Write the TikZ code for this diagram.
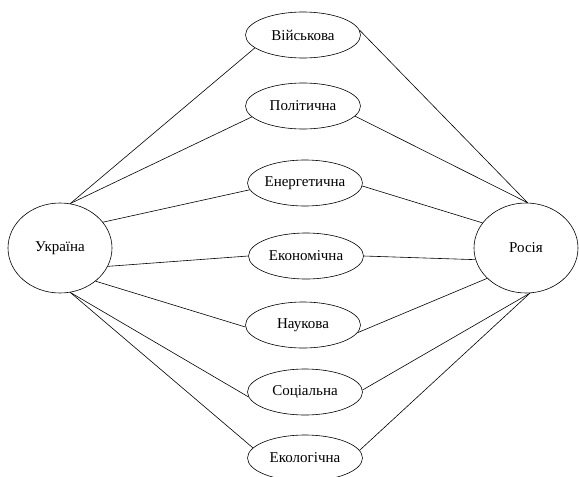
\documentclass[tikz,border=0pt]{standalone}
\usepackage{fontspec}
\setmainfont{Liberation Serif}
\usetikzlibrary{shapes.geometric}

\begin{document}
\begin{tikzpicture}[x=1pt,y=-1pt,line width=0.6pt,
  font=\fontsize{15}{17}\selectfont,
  krajina/.style={draw,ellipse,minimum width=104pt,minimum height=90pt,inner sep=0pt},
  sfera/.style={draw,ellipse,minimum width=115pt,minimum height=46pt,inner sep=0pt}]
\useasboundingbox (0,0) rectangle (579,477);
\node[krajina] (U) at (60,248) {Україна};
\node[krajina] (R) at (526,248) {Росія};
\node[sfera] (S1) at (303,35) {Військова};
\node[sfera] (S2) at (303,106) {Політична};
\node[sfera] (S3) at (305,183) {Енергетична};
\node[sfera] (S4) at (306,256) {Економічна};
\node[sfera] (S5) at (303,325) {Наукова};
\node[sfera] (S6) at (305,392) {Соціальна};
\node[sfera] (S7) at (305,458) {Екологічна};
\path (U.77) edge (S1.195) (U.77) edge (S2.192) (U.31) edge (S3.187)
      (U.-21) edge (S4.180) (U.-43) edge (S5.182)
      (U.-77) edge (S6.185) (U.-77) edge (S7.169);
\path (R.88) edge (S1.5) (R.88) edge (S2.-11) (R.150) edge (S3.-3)
      (R.193) edge (S4.0) (R.218) edge (S5.-8)
      (R.-85) edge (S6.2) (R.-85) edge (S7.8);
\end{tikzpicture}
\end{document}
